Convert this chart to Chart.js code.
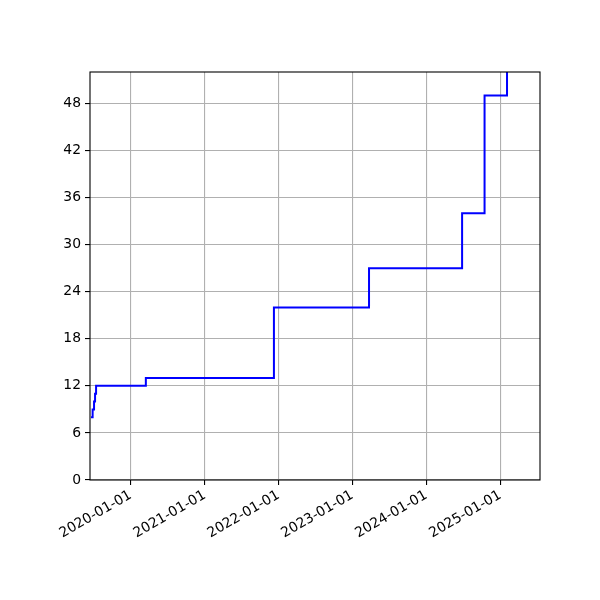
<!DOCTYPE html>
<html>
<head>
<meta charset="utf-8">
<script src="https://cdn.jsdelivr.net/npm/chart.js@4/dist/chart.umd.min.js"></script>
<style>
html,body{margin:0;padding:0;background:#fff;}
#wrap{width:600px;height:600px;}
</style>
</head>
<body>
<div id="wrap"><canvas id="c" width="600" height="600"></canvas></div>
<script>
const changeDates = ['2019-06-19','2019-06-27','2019-07-04','2019-07-09','2019-07-14','2020-03-16','2021-12-09','2023-03-24','2024-06-26','2024-10-15','2025-02-03'];
const counts = [8, 9, 10, 11, 12, 13, 22, 27, 34, 49, 56];
const xTickDates = ['2020-01-01','2021-01-01','2022-01-01','2023-01-01','2024-01-01','2025-01-01'];
const yTickValues = [0, 6, 12, 18, 24, 30, 36, 42, 48];
const xRange = ['2019-06-14','2025-07-16'];
const yRange = [0, 52];

const points = changeDates.map((d, i) => ({x: Date.parse(d), y: counts[i]}));
const fmt = v => new Date(v).toISOString().slice(0, 10);
const FONT = {family: 'DejaVu Sans', size: 13.9};

const frame = {
  id: 'frame',
  afterDraw(chart) {
    const a = chart.chartArea, ctx = chart.ctx;
    ctx.save();
    ctx.strokeStyle = '#000';
    ctx.lineWidth = 1.1;
    ctx.strokeRect(a.left, a.top, a.right - a.left, a.bottom - a.top);
    ctx.restore();
  }
};

new Chart(document.getElementById('c'), {
  type: 'line',
  data: {
    datasets: [{
      data: points,
      borderColor: '#0000ff',
      borderWidth: 2,
      pointRadius: 0,
      stepped: 'before',
      fill: false
    }]
  },
  options: {
    responsive: false,
    animation: false,
    layout: {padding: {top: 72, right: 60, left: 0, bottom: 0}},
    plugins: {legend: {display: false}, tooltip: {enabled: false}},
    scales: {
      x: {
        type: 'linear',
        min: Date.parse(xRange[0]),
        max: Date.parse(xRange[1]),
        afterBuildTicks: s => { s.ticks = xTickDates.map(d => ({value: Date.parse(d)})); },
        afterFit: s => { s.height = 120; },
        ticks: {
          autoSkip: false,
          minRotation: 30,
          maxRotation: 30,
          color: '#000',
          font: FONT,
          padding: 2,
          callback: v => fmt(v)
        },
        grid: {color: '#b0b0b0', lineWidth: 1.1, tickColor: '#000', tickLength: 5, tickWidth: 1.1},
        border: {display: false}
      },
      y: {
        type: 'linear',
        min: yRange[0],
        max: yRange[1],
        afterBuildTicks: s => { s.ticks = yTickValues.map(v => ({value: v})); },
        afterFit: s => { s.width = 90; },
        ticks: {color: '#000', font: FONT, padding: 4, callback: v => String(v)},
        grid: {color: '#b0b0b0', lineWidth: 1.1, tickColor: '#000', tickLength: 5, tickWidth: 1.1},
        border: {display: false}
      }
    }
  },
  plugins: [frame]
});
</script>
</body>
</html>
